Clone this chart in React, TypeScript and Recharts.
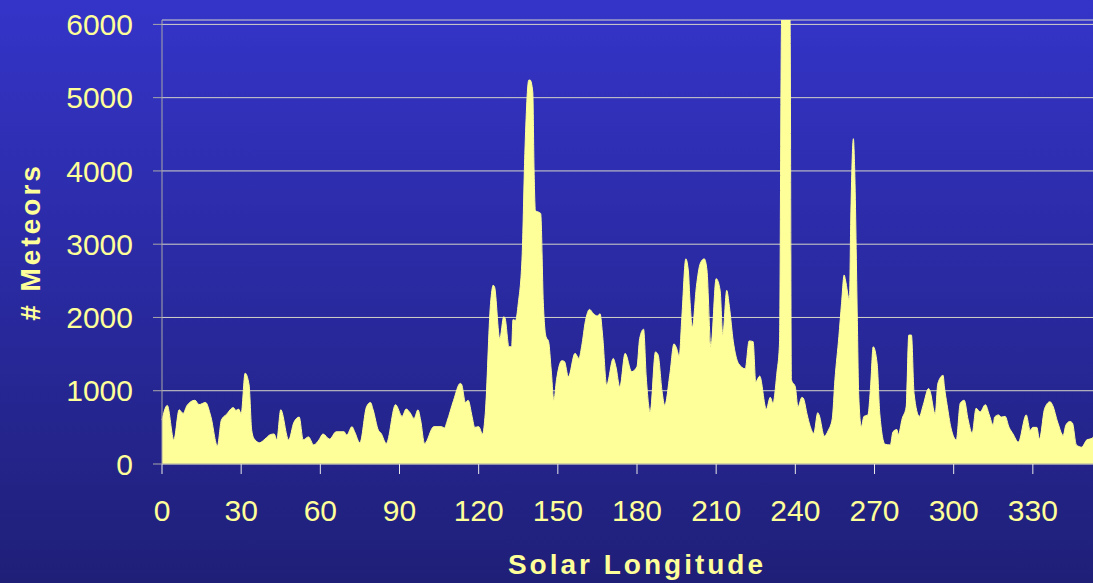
import { Area, AreaChart, CartesianGrid, Label, XAxis, YAxis } from 'recharts';

// solar longitude (deg) / meteor counts in 60 degree chunks
const lonA = [0, 2, 4.5, 6.5, 8, 9.5, 12.5, 14, 16.5, 18.5, 21, 22.5, 24.5, 27, 28, 29, 30, 31.5, 33, 34, 35, 37, 39, 41, 42.5, 43.5, 45, 48, 50, 52, 53.5, 55.5, 57.5];
const metA = [600, 800, 330, 740, 690, 800, 870, 810, 840, 650, 250, 600, 680, 770, 730, 750, 690, 1240, 1080, 460, 340, 290, 340, 400, 410, 330, 740, 330, 570, 640, 330, 370, 260];

const lonB = [59.5, 61, 63.5, 66, 69, 70, 72, 73, 75, 77.5, 79, 80, 82, 83, 85, 88.5, 91, 92.5, 94, 95.5, 97, 98, 99.5, 103, 106, 107, 108, 110.5, 113, 113.5, 115, 116, 117.5, 118.5, 120];
const metB = [330, 410, 340, 440, 440, 395, 510, 440, 290, 780, 840, 740, 460, 420, 280, 810, 650, 750, 700, 620, 740, 600, 280, 510, 510, 490, 580, 870, 1100, 1090, 840, 870, 650, 500, 510];

const lonC = [121.5, 122.5, 124.5, 125.5, 126, 128, 129.5, 130, 131.5, 132.5, 133, 134, 135, 136.5, 137.5, 139, 139.5, 140.5, 141, 141.5, 143.5, 144.5, 145.5, 146.5, 147.5, 148.5, 149.5, 151.5, 152.5, 154, 156.5, 158, 159, 160.5, 162, 163.5, 165, 166, 167, 168.5, 171, 172, 173.5, 175.5, 178, 180];
const metC = [410, 690, 2190, 2440, 2420, 1710, 2010, 1990, 1600, 1600, 1970, 1960, 2190, 2870, 4240, 5240, 5240, 5080, 4000, 3460, 3420, 2200, 1740, 1670, 1280, 870, 1150, 1410, 1400, 1190, 1510, 1440, 1600, 1960, 2110, 2050, 2020, 2050, 1740, 1080, 1440, 1330, 1050, 1510, 1260, 1330];

const lonD = [181, 182.5, 183.5, 185, 187, 188, 189.5, 190.5, 192.5, 194, 195, 196, 197, 198.5, 199.5, 200, 201, 202.5, 204, 205.5, 206.5, 208, 210, 211.5, 212.5, 214, 215, 216.5, 218.5, 221, 222.5, 224, 225, 226.5, 229, 230.5, 231.5, 233, 234, 234.8, 238, 238.5, 240];
const metD = [1710, 1840, 1190, 710, 1530, 1490, 990, 800, 1240, 1640, 1580, 1470, 2010, 2800, 2620, 2280, 1870, 2420, 2740, 2800, 2650, 1600, 2530, 2370, 1760, 2370, 2150, 1670, 1370, 1300, 1680, 1670, 1120, 1200, 750, 910, 830, 1240, 1650, 6060, 6060, 1150, 1050];

const lonE = [241, 242.5, 243, 244.5, 245.5, 247, 248.5, 249, 251, 252.5, 254, 255, 256.5, 257.5, 258.5, 259, 260.5, 261, 262, 262.5, 263.5, 264, 265, 266, 267.5, 268.5, 269.5, 271, 272, 274, 276, 277, 278.5, 279, 280.5, 282, 283, 284, 285, 287, 288.5, 290.5, 291, 293, 294, 296, 296.5, 297.5, 299];
const metE = [780, 910, 900, 670, 530, 420, 700, 670, 380, 460, 620, 1150, 1740, 2190, 2580, 2510, 2240, 3330, 4440, 4010, 1960, 960, 510, 650, 670, 1050, 1600, 1370, 690, 270, 260, 440, 470, 400, 620, 780, 1760, 1760, 960, 650, 810, 1030, 1000, 680, 1100, 1210, 1050, 810, 490];

const lonF = [301, 302.5, 304, 305.5, 307, 308.5, 310, 312, 313.5, 315, 315.5, 317, 318, 319.5, 321, 322.5, 324.5, 327.5, 329, 330, 331.5, 332.5, 334.5, 336.5, 337.5, 339.5, 341.5, 342.5, 344, 345, 346.5, 348.5, 350.5, 352.5, 354, 357, 360];
const metF = [330, 830, 870, 600, 420, 760, 710, 810, 670, 530, 640, 670, 640, 650, 500, 410, 300, 670, 460, 500, 500, 340, 760, 850, 800, 560, 390, 530, 580, 560, 260, 230, 330, 350, 450, 500, 550];

const xTicks = [0, 30, 60, 90, 120, 150, 180, 210, 240, 270, 300, 330];
const yTicks = [0, 1000, 2000, 3000, 4000, 5000, 6000];

const segments: [number[], number[]][] = [
  [lonA, metA],
  [lonB, metB],
  [lonC, metC],
  [lonD, metD],
  [lonE, metE],
  [lonF, metF],
];

const data = segments.flatMap(([lon, met]) => lon.map((l, i) => ({ lon: l, meteors: met[i] })));

const FONT = '"Liberation Sans", Arial, Helvetica, sans-serif';
const TEXT = '#FFFF99';

export default function App() {
  return (
    <div
      style={{
        position: 'fixed',
        left: 0,
        top: 0,
        width: 1093,
        height: 583,
        overflow: 'hidden',
        background: 'linear-gradient(#3434c9, #1f1f78)',
      }}
    >
      <AreaChart width={1120} height={583} data={data} margin={{ top: 20, right: 8, left: 0, bottom: 0 }}>
        <CartesianGrid vertical={false} stroke="#d4d4c8" />
        <XAxis
          dataKey="lon"
          type="number"
          domain={[0, 360]}
          ticks={xTicks}
          height={119}
          tickSize={10}
          tickMargin={26}
          stroke="#a8a8a8"
          tickLine={{ stroke: '#e8e8e8' }}
          tick={{ fill: TEXT, fontSize: 30, fontFamily: FONT }}
        >
          <Label
            value="Solar Longitude"
            position="insideBottom"
            offset={9}
            fill={TEXT}
            fontSize={28}
            fontWeight="bold"
            fontFamily={FONT}
            letterSpacing={3}
          />
        </XAxis>
        <YAxis
          type="number"
          domain={[0, 6060]}
          ticks={yTicks}
          allowDataOverflow
          width={162}
          tickSize={9}
          tickMargin={20}
          stroke="#a8a8a8"
          tick={{ fill: TEXT, fontSize: 30, fontFamily: FONT }}
        >
          <Label
            content={({ viewBox }: any) => {
              const cx = viewBox.x + 30;
              const cy = viewBox.y + viewBox.height / 2;
              return (
                <text
                  x={cx}
                  y={cy}
                  transform={`rotate(-90 ${cx} ${cy})`}
                  textAnchor="middle"
                  dominantBaseline="central"
                  fill={TEXT}
                  fontSize={28}
                  fontWeight="bold"
                  fontFamily={FONT}
                  letterSpacing={3}
                >
                  # Meteors
                </text>
              );
            }}
          />
        </YAxis>
        <Area
          type="monotone"
          dataKey="meteors"
          stroke="#FFFF99"
          strokeWidth={1}
          fill="#FFFF99"
          fillOpacity={1}
          isAnimationActive={false}
        />
      </AreaChart>
    </div>
  );
}
